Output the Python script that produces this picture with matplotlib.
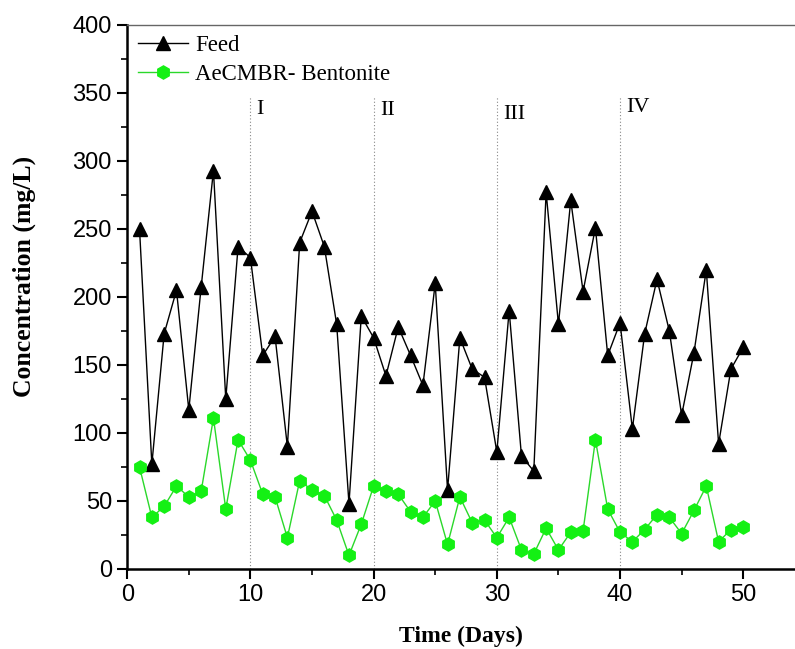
import matplotlib
matplotlib.use('Agg')
import matplotlib.pyplot as plt
from matplotlib.ticker import MultipleLocator

days = list(range(1, 51))
feed = [250, 77, 173, 205, 117, 207, 293, 125, 237, 229,
        157, 171, 90, 240, 263, 237, 180, 48, 186, 170,
        142, 178, 157, 135, 210, 58, 170, 147, 141, 86,
        190, 83, 72, 277, 180, 271, 204, 251, 157, 181,
        103, 173, 213, 175, 113, 159, 220, 92, 147, 163]
bentonite = [75, 38, 46, 61, 53, 57, 111, 44, 95, 80,
             55, 53, 23, 65, 58, 54, 36, 10, 33, 61,
             57, 55, 42, 38, 50, 18, 53, 34, 36, 23,
             38, 14, 11, 30, 14, 27, 28, 95, 44, 27,
             20, 29, 40, 38, 26, 43, 61, 20, 29, 31]
phase_days = [10, 20, 30, 40]
phase_labels = ['I', 'II', 'III', 'IV']
phase_label_y = [338, 337, 334, 339]

serif = 'Liberation Serif'
sans = 'Liberation Sans'

fig = plt.figure(figsize=(7.95, 6.49), dpi=100)
ax = fig.add_axes([0.16, 0.1233, 0.84, 0.8382])

# stage boundaries
for d, lab, ly in zip(phase_days, phase_labels, phase_label_y):
    ax.plot([d, d], [0, 347], color='#888888', lw=0.8, ls=(0, (1, 2)), zorder=1)
    ax.text(d + 0.5, ly, lab, family=serif, fontsize=16, ha='left', va='center')

ax.plot(days, feed, color='black', lw=1.0, marker='^', ms=10,
        markerfacecolor='black', markeredgecolor='black', label='Feed', zorder=3)
ax.plot(days, bentonite, color='#2ad82a', lw=1.0, marker='h', ms=9.5,
        markerfacecolor='#14f014', markeredgecolor='#14f014',
        label='AeCMBR- Bentonite', zorder=3)

ax.set_xlim(0, 54.2)
ax.set_ylim(0, 400)
ax.xaxis.set_major_locator(MultipleLocator(10))
ax.xaxis.set_minor_locator(MultipleLocator(5))
ax.yaxis.set_major_locator(MultipleLocator(50))
ax.yaxis.set_minor_locator(MultipleLocator(25))

ax.spines['right'].set_visible(False)
ax.spines['top'].set_color('#666666')
ax.spines['top'].set_linewidth(1.0)
ax.spines['left'].set_linewidth(1.8)
ax.spines['bottom'].set_linewidth(1.8)

ax.tick_params(which='major', direction='out', length=7, width=1.5, labelsize=17, pad=4)
ax.tick_params(which='minor', direction='out', length=4, width=1.2)
ax.tick_params(top=False, right=False, which='both')
for t in ax.get_xticklabels() + ax.get_yticklabels():
    t.set_family(sans)

ax.set_xlabel('Time (Days)', family=serif, fontweight='bold', fontsize=17, labelpad=14)
ax.set_ylabel('Concentration (mg/L)', family=serif, fontweight='bold', fontsize=18.5)
ax.yaxis.set_label_coords(-0.136, 0.537)

leg = ax.legend(loc='upper left', frameon=False, prop={'family': serif, 'size': 16.5},
                handlelength=2.2, handletextpad=0.3, borderaxespad=0.05, labelspacing=0.35)

fig.savefig('out.png', dpi=100)
